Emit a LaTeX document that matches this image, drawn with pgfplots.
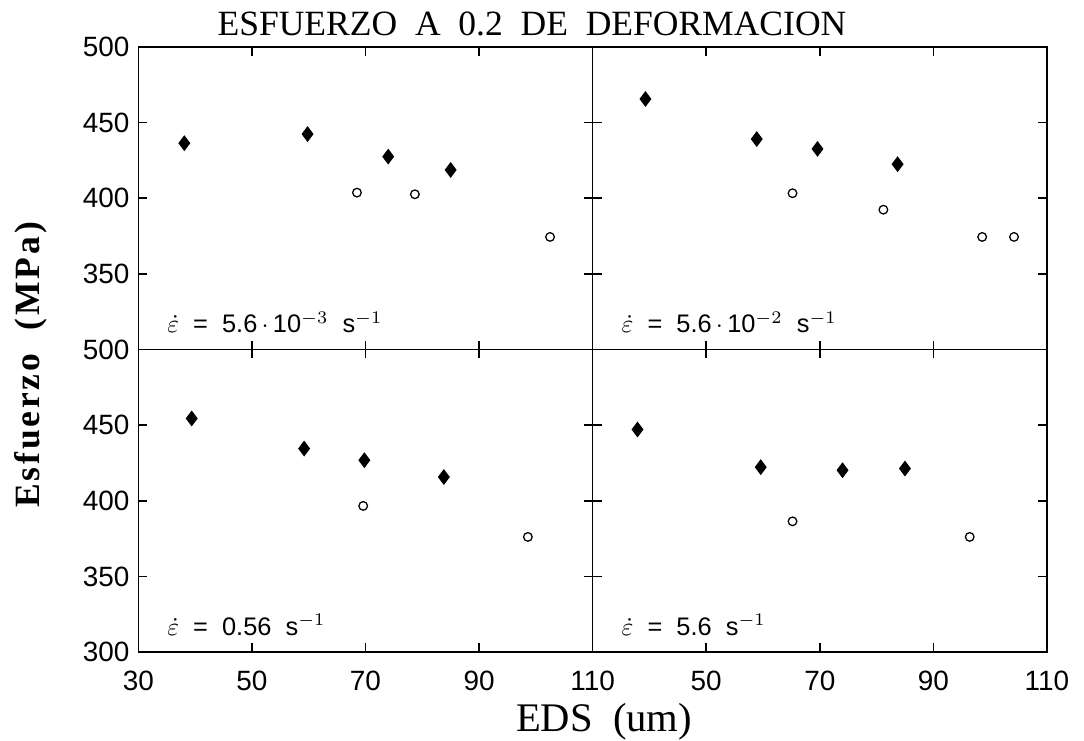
\documentclass[border=0pt]{standalone}
\usepackage{fontspec}
\setmainfont{Liberation Serif}
\setsansfont{Liberation Sans}
\usepackage{pgfplots}
\pgfplotsset{compat=1.18}

% measured marks: filled diamonds and open circles, one pair per strain rate
\pgfplotsset{
  panel/.style={
    scale only axis, width=179pt, height=119.2pt,
    xmin=30, xmax=110, ymin=300, ymax=500,
    xtick={30,50,70,90,110}, ytick={300,350,400,450,500},
    tick align=inside, major tick length=3.5pt,
    axis line style={line width=0.6pt},
    every tick/.style={black, line width=0.6pt},
    /pgf/number format/assume math mode=true,
    ticklabel style={font=\sffamily\fontsize{11}{13}\selectfont},
    xticklabel style={yshift=-4pt},
    clip=false,
  },
  lleno/.style={only marks, mark=diamond*, mark size=2.8pt, black},
  hueco/.style={only marks, mark=o, mark size=1.7pt, black, mark options={line width=0.5pt}},
}
\tikzset{nota/.style={anchor=base west, font=\sffamily\fontsize{10}{12}\selectfont}}

\begin{document}
\begin{tikzpicture}

% top left: 5.6e-3
\begin{axis}[panel, at={(0pt,119.2pt)}, xticklabels={}, yticklabels={,350,400,450,500}]
\addplot[lleno] coordinates {(38.1,436.4) (59.8,442.4) (74.0,427.5) (85.0,418.7)};
\addplot[hueco] coordinates {(68.5,403.7) (78.7,402.6) (102.5,374.4)};
\node[nota] at (rel axis cs:0.044,0.056) {$\dot{\varepsilon}$ \ = \ 5.6\,$\cdot$\,10$^{-3}$ \ s$^{-1}$};
\end{axis}

% top right: 5.6e-2
\begin{axis}[panel, at={(179pt,119.2pt)}, xticklabels={}, yticklabels={}]
\addplot[lleno] coordinates {(39.3,465.6) (58.9,439.1) (69.6,432.6) (83.7,422.5)};
\addplot[hueco] coordinates {(65.2,403.3) (81.2,392.4) (98.6,374.4) (104.2,374.4)};
\node[nota] at (rel axis cs:0.044,0.056) {$\dot{\varepsilon}$ \ = \ 5.6\,$\cdot$\,10$^{-2}$ \ s$^{-1}$};
\end{axis}

% bottom left: 0.56
\begin{axis}[panel, at={(0pt,0pt)}]
\addplot[lleno] coordinates {(39.4,454.4) (59.2,434.5) (69.8,426.8) (83.8,415.7)};
\addplot[hueco] coordinates {(69.6,396.6) (98.6,376.1)};
\node[nota] at (rel axis cs:0.044,0.056) {$\dot{\varepsilon}$ \ = \ 0.56 \ s$^{-1}$};
\end{axis}

% bottom right: 5.6
\begin{axis}[panel, at={(179pt,0pt)}, xticklabels={,50,70,90,110}, yticklabels={}]
\addplot[lleno] coordinates {(37.9,447.1) (59.6,422.2) (74.0,420.2) (85.0,421.3)};
\addplot[hueco] coordinates {(65.2,386.4) (96.4,376.1)};
\node[nota] at (rel axis cs:0.044,0.056) {$\dot{\varepsilon}$ \ = \ 5.6 \ s$^{-1}$};
\end{axis}

\node[anchor=base, font=\fontsize{14}{16}\selectfont] at (155.1pt,243.1pt) {ESFUERZO\ \ A\ \ 0.2\ \ DE\ \ DEFORMACION};
\node[anchor=base, font=\fontsize{16}{18}\selectfont] at (183.5pt,-31.4pt) {EDS\ \ (um)};
\node[rotate=90, font=\bfseries\fontsize{14}{16}\selectfont\addfontfeature{LetterSpace=8}] at (-42.2pt,113.1pt) {Esfuerzo\ \ (MPa)};

\pgfresetboundingbox
\path (-54.5pt,-34.7pt) rectangle (372.6pt,256.9pt);
\end{tikzpicture}
\end{document}
